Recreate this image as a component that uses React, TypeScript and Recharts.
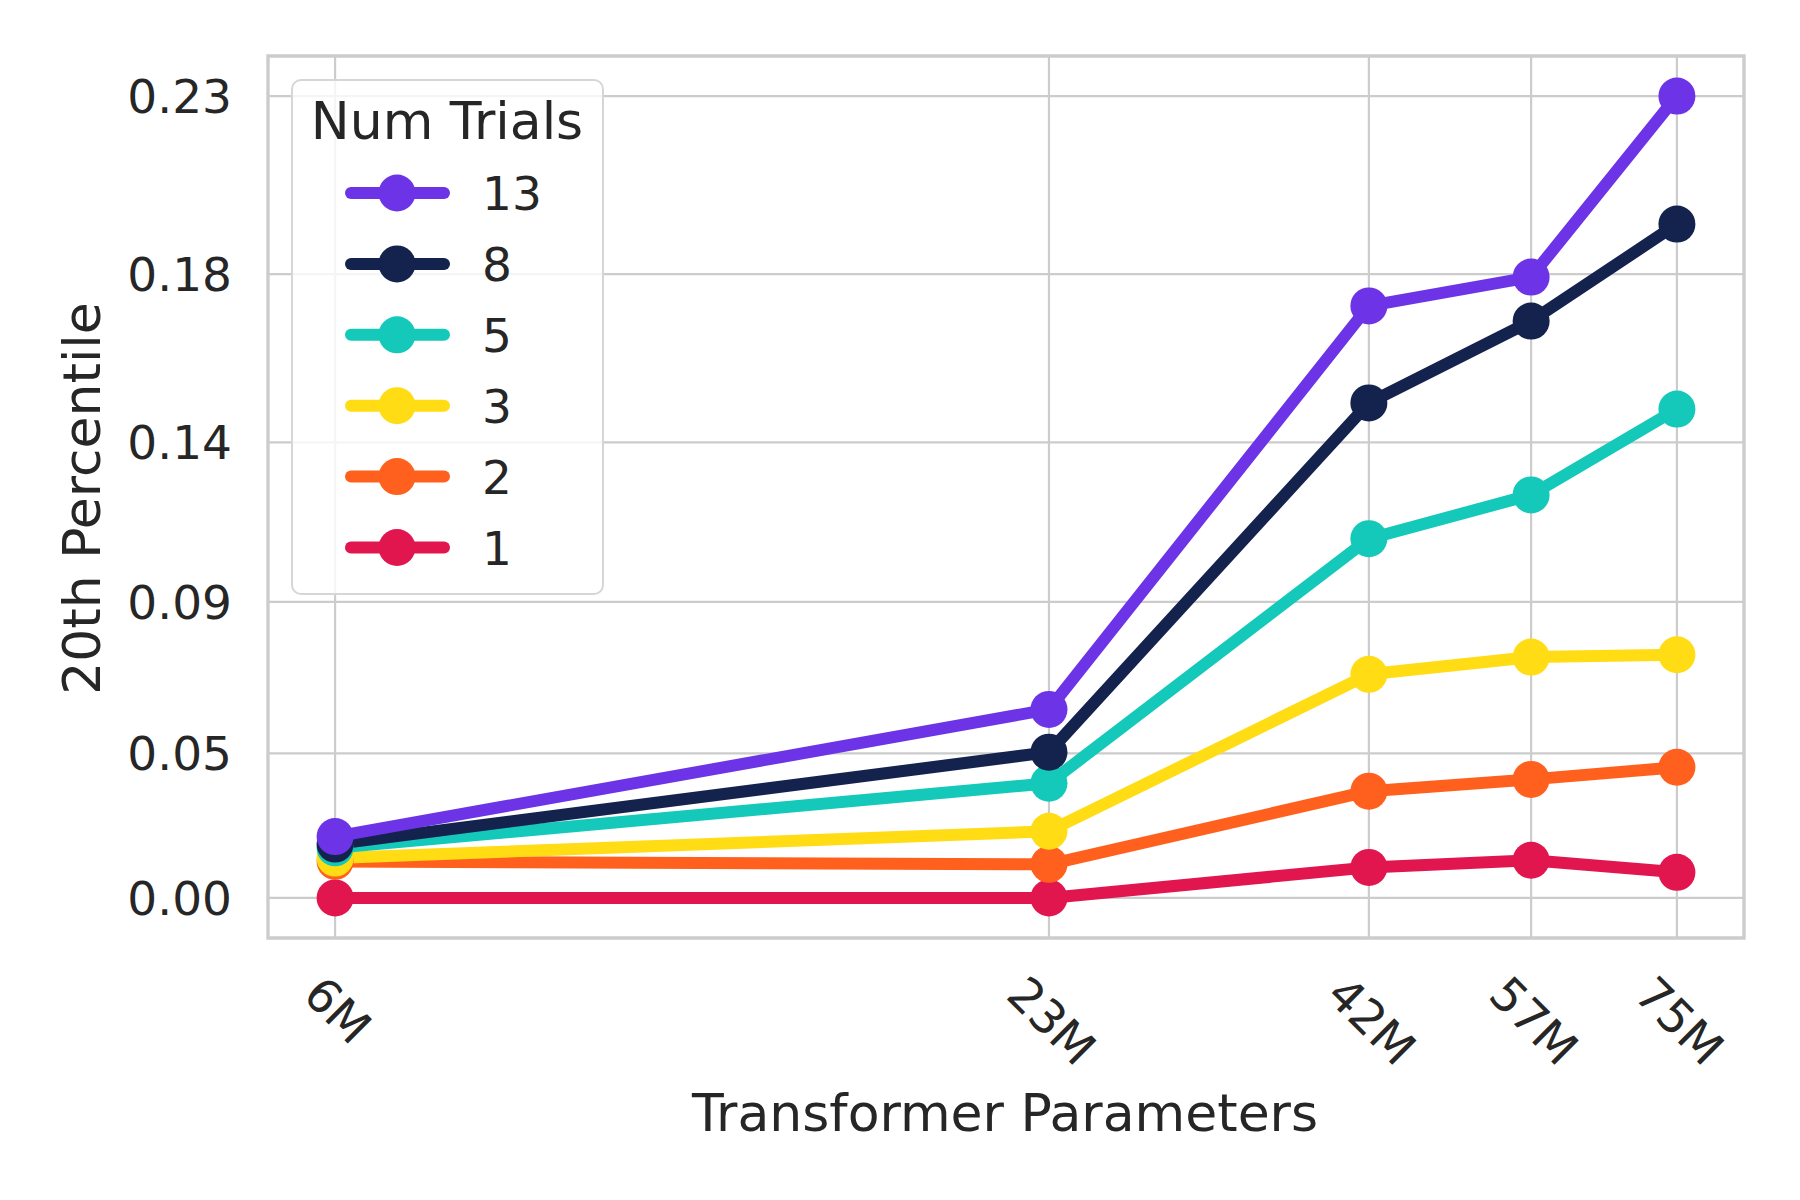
import React from "react";
import {
  LineChart,
  Line,
  XAxis,
  YAxis,
  CartesianGrid,
  ReferenceArea,
  Legend,
} from "recharts";

// model size in millions of parameters
const paramsM = [6, 23, 42, 57, 75];
const xTickLabels = ["6M", "23M", "42M", "57M", "75M"];

// 20th percentile per number of trials
const trials1 = [0.0, 0.0, 0.0099, 0.0122, 0.0083];
const trials2 = [0.0118, 0.0109, 0.0342, 0.0379, 0.0417];
const trials3 = [0.0129, 0.0215, 0.0703, 0.0755, 0.0762];
const trials5 = [0.0162, 0.0367, 0.1105, 0.1231, 0.1473];
const trials8 = [0.0174, 0.0464, 0.149, 0.1714, 0.1972];
const trials13 = [0.0198, 0.0596, 0.1755, 0.1832, 0.23];

const yTickValues = [0, 0.046, 0.092, 0.138, 0.184, 0.23];
const yTickLabels = ["0.00", "0.05", "0.09", "0.14", "0.18", "0.23"];

// drawn bottom-up so 13 ends on top; legend lists them reversed
const SERIES = [
  { key: "t1", name: "1", color: "#e1164e", values: trials1 },
  { key: "t2", name: "2", color: "#ff601e", values: trials2 },
  { key: "t3", name: "3", color: "#ffdc14", values: trials3 },
  { key: "t5", name: "5", color: "#14c9b9", values: trials5 },
  { key: "t8", name: "8", color: "#14224e", values: trials8 },
  { key: "t13", name: "13", color: "#6c34e6", values: trials13 },
];

const TEXT = "#262626";
const GRID = "#cccccc";
const FONT = "'DejaVu Sans', sans-serif";

// y axis is on a -log(1 - p) scale
const toAxis = (v: number) => -Math.log(1 - v);

const rows = paramsM.map((p, i) => {
  const row: Record<string, number> = { params: p };
  SERIES.forEach((s) => {
    row[s.key] = s.values[i];
  });
  return row;
});

// 5% padding like matplotlib autoscale
const allVals = SERIES.flatMap((s) => s.values);
const yLo = toAxis(Math.min(...allVals));
const yHi = toAxis(Math.max(...allVals));
const yPad = 0.05 * (yHi - yLo);
const yDomain = [yLo - yPad, yHi + yPad];

const xLo = Math.log(paramsM[0]);
const xHi = Math.log(paramsM[paramsM.length - 1]);
const xPad = 0.05 * (xHi - xLo);
const xDomain = [Math.exp(xLo - xPad), Math.exp(xHi + xPad)];

const XTick = (props: any) => {
  const { x, y, payload } = props;
  const label = xTickLabels[paramsM.indexOf(payload.value)] ?? String(payload.value);
  const w = 47 * (0.636 * (label.length - 1) + 0.863);
  const cx = x + 3;
  const cy = y + 35 + 0.3536 * (w + 34);
  return (
    <text
      x={cx}
      y={cy}
      dy="0.36em"
      textAnchor="middle"
      transform={`rotate(45 ${cx} ${cy})`}
      fontSize={47}
      fontFamily={FONT}
      fill={TEXT}
    >
      {label}
    </text>
  );
};

const LegendBox = () => {
  const items = [...SERIES].reverse();
  return (
    <svg width={314} height={518} style={{ display: "block" }}>
      <rect
        x={1}
        y={1}
        width={311}
        height={514}
        rx={9}
        fill="#ffffff"
        fillOpacity={0.8}
        stroke="#d6d6d6"
        strokeWidth={2}
      />
      <text x={156} y={60} textAnchor="middle" fontSize={52} fontFamily={FONT} fill={TEXT}>
        Num Trials
      </text>
      {items.map((s, i) => {
        const cy = 114 + 70.9 * i;
        return (
          <g key={s.key}>
            <line x1={60} x2={153} y1={cy} y2={cy} stroke={s.color} strokeWidth={12} strokeLinecap="round" />
            <circle cx={106} cy={cy} r={18.5} fill={s.color} />
            <text x={191} y={cy + 17} fontSize={47} fontFamily={FONT} fill={TEXT}>
              {s.name}
            </text>
          </g>
        );
      })}
    </svg>
  );
};

export default function App() {
  return (
    <div style={{ position: "absolute", left: 0, top: 0, width: 1800, height: 1200, background: "#fff" }}>
      <LineChart
        width={1800}
        height={1200}
        data={rows}
        margin={{ top: 56, right: 56, bottom: 0, left: 0 }}
        style={{ fontFamily: FONT }}
      >
        <CartesianGrid stroke={GRID} strokeWidth={2.2} />
        <ReferenceArea
          x1={xDomain[0]}
          x2={xDomain[1]}
          y1={yDomain[0]}
          y2={yDomain[1]}
          fill="none"
          stroke={GRID}
          strokeWidth={3.3}
          ifOverflow="visible"
        />
        <XAxis
          dataKey="params"
          type="number"
          scale="log"
          domain={xDomain}
          allowDataOverflow
          ticks={paramsM}
          interval={0}
          height={262}
          tickSize={0}
          tickMargin={0}
          tickLine={false}
          axisLine={false}
          tick={<XTick />}
          label={{
            content: (p: any) => {
              const vb = p.viewBox;
              return (
                <text
                  x={vb.x + vb.width / 2 - 1}
                  y={vb.y + 193}
                  textAnchor="middle"
                  fontSize={52}
                  fontFamily={FONT}
                  fill={TEXT}
                >
                  Transformer Parameters
                </text>
              );
            },
          }}
        />
        <YAxis
          type="number"
          domain={yDomain}
          allowDataOverflow
          ticks={yTickValues.map(toAxis)}
          interval={0}
          tickFormatter={(_v: number, i: number) => yTickLabels[i]}
          width={268}
          tickSize={0}
          tickMargin={36}
          tickLine={false}
          axisLine={false}
          tick={{ fontSize: 47, fill: TEXT, fontFamily: FONT }}
          label={{
            content: (p: any) => {
              const vb = p.viewBox;
              const cx = vb.x + 100;
              const cy = vb.y + vb.height / 2 + 1.5;
              return (
                <text
                  x={cx}
                  y={cy}
                  textAnchor="middle"
                  transform={`rotate(-90 ${cx} ${cy})`}
                  fontSize={52}
                  fontFamily={FONT}
                  fill={TEXT}
                >
                  20th Percentile
                </text>
              );
            },
          }}
        />
        {SERIES.map((s) => (
          <Line
            key={s.key}
            name={s.name}
            type="linear"
            dataKey={(row: any) => toAxis(row[s.key])}
            stroke={s.color}
            strokeWidth={12}
            strokeLinejoin="round"
            dot={{ r: 18.5, fill: s.color, stroke: "none", strokeWidth: 0 }}
            activeDot={false}
            isAnimationActive={false}
          />
        ))}
        <Legend
          layout="horizontal"
          verticalAlign="middle"
          align="center"
          content={<LegendBox />}
          wrapperStyle={{ left: 291, top: 79, width: 314, height: 518 }}
        />
      </LineChart>
    </div>
  );
}
